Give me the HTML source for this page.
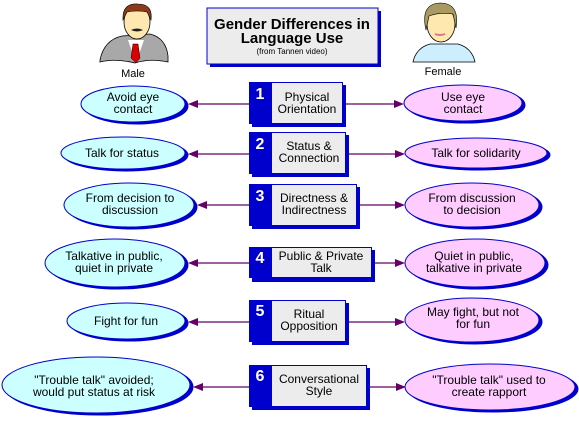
<!DOCTYPE html>
<html><head><style>
html,body{margin:0;padding:0;background:#fff;}
svg{display:block;font-family:"Liberation Sans",Arial,sans-serif;}
</style></head><body>
<svg width="579" height="421" viewBox="0 0 579 421" xmlns="http://www.w3.org/2000/svg">
<!-- Title -->
<rect x="210" y="11" width="171" height="56" fill="#0000cc"/>
<rect x="207" y="8" width="171" height="56" fill="#ececec" stroke="#0000cc" stroke-width="1"/>
<text x="292" y="29" font-size="15" font-weight="bold" text-anchor="middle">Gender Differences in</text>
<text x="292" y="43" font-size="15" font-weight="bold" text-anchor="middle">Language Use</text>
<text x="292" y="54" font-size="8" text-anchor="middle">(from Tannen video)</text>

<!-- Male figure -->
<path d="M100,60 Q104,40 122,36 L150,34 Q166,38 168,56 L168,62 Q150,58 135,63 Q115,58 100,62 Z" fill="#a8a8a8" stroke="#000" stroke-width="0.8"/>
<path d="M128,40 L136,63 L144,40 Z" fill="#fff"/>
<path d="M133,44 L138,44 L140,58 L136,63 L131,58 Z" fill="#dd0000" stroke="#000" stroke-width="0.5"/>
<ellipse cx="137" cy="22" rx="13" ry="17" fill="#ffe8b0" stroke="#000" stroke-width="0.8"/>
<path d="M123,20 Q122,3 138,4 Q153,4 151,20 L147,12 Q137,10 127,12 Z" fill="#8b3a1a" stroke="#000" stroke-width="0.6"/>
<path d="M131,30 Q137,27 143,30 Q137,33 131,30 Z" fill="#222"/>
<text x="133" y="77" font-size="11" text-anchor="middle">Male</text>

<!-- Female figure -->
<path d="M413,62 Q416,48 430,44 L458,44 Q472,48 475,62 Z" fill="#cceeff" stroke="#000" stroke-width="0.8"/>
<ellipse cx="441" cy="24" rx="14" ry="18" fill="#ffe8b0" stroke="#000" stroke-width="0.8"/>
<path d="M426,30 Q420,4 440,3 Q460,3 456,28 L453,14 Q440,12 429,16 Z" fill="#a89a60" stroke="#000" stroke-width="0.6"/>
<path d="M435,34 Q440,36 445,34" stroke="#e07090" stroke-width="2" fill="none"/>
<text x="443" y="75" font-size="11" text-anchor="middle">Female</text>

<g font-size="12" text-anchor="middle">
<line x1="249" y1="104" x2="198" y2="104" stroke="#660066" stroke-width="1.3"/>
<path d="M188,104 L198,100 L198,108 Z" fill="#660066"/>
<line x1="343" y1="104" x2="394" y2="104" stroke="#660066" stroke-width="1.3"/>
<path d="M404,104 L394,100 L394,108 Z" fill="#660066"/>
<line x1="249" y1="154" x2="198" y2="154" stroke="#660066" stroke-width="1.3"/>
<path d="M188,154 L198,150 L198,158 Z" fill="#660066"/>
<line x1="346" y1="154" x2="395" y2="154" stroke="#660066" stroke-width="1.3"/>
<path d="M405,154 L395,150 L395,158 Z" fill="#660066"/>
<line x1="249" y1="205" x2="207" y2="205" stroke="#660066" stroke-width="1.3"/>
<path d="M197,205 L207,201 L207,209 Z" fill="#660066"/>
<line x1="357" y1="205" x2="395" y2="205" stroke="#660066" stroke-width="1.3"/>
<path d="M405,205 L395,201 L395,209 Z" fill="#660066"/>
<line x1="249" y1="263" x2="198" y2="263" stroke="#660066" stroke-width="1.3"/>
<path d="M188,263 L198,259 L198,267 Z" fill="#660066"/>
<line x1="372" y1="263" x2="395" y2="263" stroke="#660066" stroke-width="1.3"/>
<path d="M405,263 L395,259 L395,267 Z" fill="#660066"/>
<line x1="249" y1="322" x2="198" y2="322" stroke="#660066" stroke-width="1.3"/>
<path d="M188,322 L198,318 L198,326 Z" fill="#660066"/>
<line x1="346" y1="322" x2="395" y2="322" stroke="#660066" stroke-width="1.3"/>
<path d="M405,322 L395,318 L395,326 Z" fill="#660066"/>
<line x1="249" y1="387" x2="203" y2="387" stroke="#660066" stroke-width="1.3"/>
<path d="M193,387 L203,383 L203,391 Z" fill="#660066"/>
<line x1="367" y1="387" x2="396" y2="387" stroke="#660066" stroke-width="1.3"/>
<path d="M406,387 L396,383 L396,391 Z" fill="#660066"/>

<g>
<rect x="252" y="85" width="94" height="42" fill="#0000cc"/>
<rect x="249" y="82" width="94" height="42" fill="#0000cc"/>
<rect x="272" y="83" width="70" height="40" fill="#ececec"/>
<text x="260" y="99" font-size="16" font-weight="bold" fill="#fff">1</text>
<text x="307" y="101">Physical</text><text x="307" y="113">Orientation</text>

<rect x="252" y="135" width="97" height="42" fill="#0000cc"/>
<rect x="249" y="132" width="97" height="42" fill="#0000cc"/>
<rect x="272" y="133" width="73" height="40" fill="#ececec"/>
<text x="260" y="149" font-size="16" font-weight="bold" fill="#fff">2</text>
<text x="309" y="150">Status &amp;</text><text x="309" y="162">Connection</text>

<rect x="252" y="187" width="108" height="42" fill="#0000cc"/>
<rect x="249" y="184" width="108" height="42" fill="#0000cc"/>
<rect x="272" y="185" width="84" height="40" fill="#ececec"/>
<text x="260" y="201" font-size="16" font-weight="bold" fill="#fff">3</text>
<text x="314" y="202">Directness &amp;</text><text x="314" y="214">Indirectness</text>

<rect x="252" y="250" width="123" height="32" fill="#0000cc"/>
<rect x="249" y="247" width="123" height="31" fill="#0000cc"/>
<rect x="272" y="248" width="99" height="29" fill="#ececec"/>
<text x="260" y="263" font-size="16" font-weight="bold" fill="#fff">4</text>
<text x="321" y="260">Public &amp; Private</text><text x="321" y="272">Talk</text>

<rect x="252" y="303" width="97" height="42" fill="#0000cc"/>
<rect x="249" y="300" width="97" height="42" fill="#0000cc"/>
<rect x="272" y="301" width="73" height="40" fill="#ececec"/>
<text x="260" y="316" font-size="16" font-weight="bold" fill="#fff">5</text>
<text x="309" y="318">Ritual</text><text x="309" y="330">Opposition</text>

<rect x="252" y="368" width="118" height="42" fill="#0000cc"/>
<rect x="249" y="365" width="118" height="42" fill="#0000cc"/>
<rect x="272" y="366" width="94" height="40" fill="#ececec"/>
<text x="260" y="381" font-size="16" font-weight="bold" fill="#fff">6</text>
<text x="319" y="383">Conversational</text><text x="319" y="395">Style</text>
</g>

<g stroke="#0000cc" stroke-width="1">
<ellipse cx="136" cy="106" rx="52" ry="18" fill="#0000cc"/>
<ellipse cx="133" cy="104" rx="52" ry="18" fill="#ccffff"/>
<ellipse cx="126" cy="155" rx="62" ry="16" fill="#0000cc"/>
<ellipse cx="123" cy="153" rx="62" ry="16" fill="#ccffff"/>
<ellipse cx="132" cy="207" rx="65" ry="22" fill="#0000cc"/>
<ellipse cx="129" cy="205" rx="65" ry="22" fill="#ccffff"/>
<ellipse cx="118" cy="265" rx="70" ry="24" fill="#0000cc"/>
<ellipse cx="115" cy="263" rx="70" ry="24" fill="#ccffff"/>
<ellipse cx="129" cy="323" rx="59" ry="18" fill="#0000cc"/>
<ellipse cx="126" cy="321" rx="59" ry="18" fill="#ccffff"/>
<ellipse cx="99" cy="387" rx="94" ry="28" fill="#0000cc"/>
<ellipse cx="96" cy="385" rx="94" ry="28" fill="#ccffff"/>
</g>
<g stroke="#0000cc" stroke-width="1">
<ellipse cx="466" cy="105" rx="59" ry="18" fill="#0000cc"/>
<ellipse cx="463" cy="103" rx="59" ry="18" fill="#ffccff"/>
<ellipse cx="479" cy="155" rx="71" ry="15" fill="#0000cc"/>
<ellipse cx="476" cy="153" rx="71" ry="15" fill="#ffccff"/>
<ellipse cx="475" cy="207" rx="67" ry="22" fill="#0000cc"/>
<ellipse cx="472" cy="205" rx="67" ry="22" fill="#ffccff"/>
<ellipse cx="478" cy="265" rx="70" ry="24" fill="#0000cc"/>
<ellipse cx="475" cy="263" rx="70" ry="24" fill="#ffccff"/>
<ellipse cx="475" cy="322" rx="67" ry="22" fill="#0000cc"/>
<ellipse cx="472" cy="320" rx="67" ry="22" fill="#ffccff"/>
<ellipse cx="493" cy="389" rx="85" ry="23" fill="#0000cc"/>
<ellipse cx="490" cy="387" rx="85" ry="23" fill="#ffccff"/>
</g>

<text x="133" y="101">Avoid eye</text><text x="133" y="113">contact</text>
<text x="122" y="157">Talk for status</text>
<text x="130" y="202">From decision to</text><text x="130" y="214">discussion</text>
<text x="114" y="260">Talkative in public,</text><text x="114" y="272">quiet in private</text>
<text x="126" y="325">Fight for fun</text>
<text x="94" y="384">"Trouble talk" avoided;</text><text x="94" y="396">would put status at risk</text>

<text x="463" y="101">Use eye</text><text x="463" y="113">contact</text>
<text x="476" y="157">Talk for solidarity</text>
<text x="472" y="202">From discussion</text><text x="472" y="214">to decision</text>
<text x="474" y="260">Quiet in public,</text><text x="474" y="272">talkative in private</text>
<text x="473" y="316">May fight, but not</text><text x="473" y="328">for fun</text>
<text x="489" y="384">"Trouble talk" used to</text><text x="489" y="396">create rapport</text>
</g>
</svg>
</body></html>
